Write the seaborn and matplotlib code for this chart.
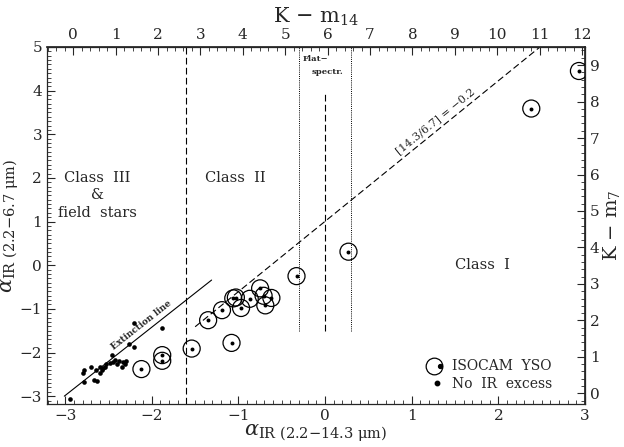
import numpy as np
import pandas as pd
import matplotlib
matplotlib.use("Agg")
import matplotlib.pyplot as plt
import seaborn as sns
from matplotlib.ticker import MultipleLocator
from matplotlib.lines import Line2D
from matplotlib.legend_handler import HandlerTuple

# ---------------- data ----------------
yso_x = [-2.12, -1.88, -1.88, -1.54, -1.35, -1.19, -1.08, -1.06, -1.03, -0.97,
         -0.87, -0.75, -0.71, -0.69, -0.62, -0.33, 0.27, 2.38, 2.93]
yso_y = [-2.38, -2.06, -2.19, -1.91, -1.26, -1.03, -1.78, -0.76, -0.74, -0.98,
         -0.77, -0.53, -0.70, -0.92, -0.75, -0.25, 0.31, 3.59, 4.45]

field_x = [-2.95, -2.79, -2.78, -2.78, -2.70, -2.67, -2.65, -2.63, -2.60, -2.60,
           -2.58, -2.56, -2.54, -2.53, -2.48, -2.46, -2.45, -2.42, -2.40, -2.38,
           -2.35, -2.33, -2.31, -2.30, -2.26, -2.21, -2.21, -1.88]
field_y = [-3.06, -2.48, -2.39, -2.68, -2.33, -2.62, -2.41, -2.66, -2.33, -2.48,
           -2.41, -2.36, -2.33, -2.26, -2.24, -2.05, -2.22, -2.18, -2.26, -2.19,
           -2.33, -2.22, -2.26, -2.19, -1.81, -1.87, -1.32, -1.45]

ext_line_x = [-3.01, -1.31]
ext_line_y = [-3.00, -0.34]
ratio_line_x = [-1.50, 2.48]
ratio_line_y = [-1.41, 5.00]

class_bound_x = -1.6
flat_low_x, flat_mid_x, flat_high_x = -0.3, 0.0, 0.3

yso = pd.DataFrame({"x": yso_x, "y": yso_y})
field = pd.DataFrame({"x": field_x, "y": field_y})

# ---------------- style ----------------
sns.set_theme(style="ticks")
plt.rcParams["font.family"] = ["DejaVu Serif"]
plt.rcParams["mathtext.fontset"] = "dejavuserif"

W, H = 624, 447
fig = plt.figure(figsize=(W / 100, H / 100), dpi=100)
L, R, T, B = 47, 585, 47, 404
ax = fig.add_axes([L / W, 1 - B / H, (R - L) / W, (B - T) / H])
ax.set_xlim(-3.21, 3.0)
ax.set_ylim(-3.18, 5.0)

# points
sns.scatterplot(data=yso, x="x", y="y", ax=ax, marker="o", s=150,
                facecolor="none", edgecolor="black", linewidth=0.9, legend=False, zorder=3)
sns.scatterplot(data=yso, x="x", y="y", ax=ax, marker="o", s=8,
                color="black", linewidth=0, legend=False, zorder=4)
sns.scatterplot(data=field, x="x", y="y", ax=ax, marker="o", s=11,
                color="black", linewidth=0, legend=False, zorder=4)

# lines
ax.plot(ext_line_x, ext_line_y, color="black", lw=0.8)
ax.plot(ratio_line_x, ratio_line_y, color="black", lw=0.8, ls=(0, (6, 3)))
ax.axvline(class_bound_x, color="black", lw=0.8, ls=(0, (6, 3)))
ax.plot([flat_low_x, flat_low_x], [-1.5, 5.0], color="black", lw=0.7, ls=(0, (1, 1.2)))
ax.plot([flat_high_x, flat_high_x], [-1.5, 5.0], color="black", lw=0.7, ls=(0, (1, 1.2)))
ax.plot([flat_mid_x, flat_mid_x], [-1.5, 4.0], color="black", lw=0.8, ls=(0, (6, 3)))

# rotated labels along lines
def screen_angle(xs, ys):
    p = ax.transData.transform(np.column_stack([xs, ys]))
    return np.degrees(np.arctan2(p[1, 1] - p[0, 1], p[1, 0] - p[0, 0]))

ax.text(-2.12, -1.38, "Extinction line", rotation=screen_angle(ext_line_x, ext_line_y),
        ha="center", va="center", fontsize=6.5, fontweight="bold", rotation_mode="anchor")
ax.text(1.27, 3.29, "[14.3/6.7] = \u22120.2", rotation=screen_angle(ratio_line_x, ratio_line_y),
        ha="center", va="center", fontsize=8, rotation_mode="anchor")

# region labels
ax.text(-2.63, 2.0, "Class  III", ha="center", va="center", fontsize=10.5)
ax.text(-2.63, 1.6, "&", ha="center", va="center", fontsize=10.5)
ax.text(-2.63, 1.2, "field  stars", ha="center", va="center", fontsize=10.5)
ax.text(-1.04, 2.0, "Class  II", ha="center", va="center", fontsize=10.5)
ax.text(1.82, 0.0, "Class  I", ha="center", va="center", fontsize=10.5)
ax.text(-0.26, 4.72, "Flat\u2212", ha="left", va="center", fontsize=6, fontweight="bold")
ax.text(-0.16, 4.42, "spectr.", ha="left", va="center", fontsize=6, fontweight="bold")

# legend
h_circ = Line2D([], [], marker="o", ls="none", ms=12, mfc="none", mec="black", mew=0.9)
h_dot = Line2D([], [], marker="o", ls="none", ms=2.8, color="black")
h_field = Line2D([], [], marker="o", ls="none", ms=3.2, color="black")
leg = ax.legend([(h_circ, h_dot), h_field], ["ISOCAM  YSO", "No  IR  excess"],
                handler_map={tuple: HandlerTuple(ndivide=None, pad=0)},
                loc="upper left", bbox_to_anchor=(0.712, 0.125), frameon=False,
                handlelength=1.0, handletextpad=0.6, labelspacing=0.25,
                borderpad=0, borderaxespad=0, fontsize=10)

# axes, ticks
ax.set_xlabel(r"$\alpha_{\rm IR\ (2.2{-}14.3\ \mu m)}$", fontsize=15, labelpad=0)
ax.set_ylabel(r"$\alpha_{\rm IR\ (2.2{-}6.7\ \mu m)}$", fontsize=15, labelpad=-1)
ax.xaxis.set_major_locator(MultipleLocator(1))
ax.xaxis.set_minor_locator(MultipleLocator(0.1))
ax.yaxis.set_major_locator(MultipleLocator(1))
ax.yaxis.set_minor_locator(MultipleLocator(0.1))
ax.tick_params(which="both", direction="in", top=False, right=False, labelsize=11)
ax.tick_params(which="major", length=6, width=0.8)
ax.tick_params(which="minor", length=3, width=0.6)
for s in ax.spines.values():
    s.set_linewidth(0.9)

def to_k14(a):
    return 2.043 * np.asarray(a) + 5.94

def from_k14(k):
    return (np.asarray(k) - 5.94) / 2.043

def to_k7(a):
    return 1.1965 * np.asarray(a) + 3.513

def from_k7(k):
    return (np.asarray(k) - 3.513) / 1.1965

secx = ax.secondary_xaxis("top", functions=(to_k14, from_k14))
secx.xaxis.set_major_locator(MultipleLocator(1))
secx.xaxis.set_minor_locator(MultipleLocator(0.2))
secx.tick_params(which="both", direction="in", labelsize=11)
secx.tick_params(which="major", length=6, width=0.8)
secx.tick_params(which="minor", length=3, width=0.6)
secx.set_xlabel(r"K $-$ m$_{14}$", fontsize=15, labelpad=4)

secy = ax.secondary_yaxis("right", functions=(to_k7, from_k7))
secy.yaxis.set_major_locator(MultipleLocator(1))
secy.yaxis.set_minor_locator(MultipleLocator(0.2))
secy.tick_params(which="both", direction="in", labelsize=11)
secy.tick_params(which="major", length=6, width=0.8)
secy.tick_params(which="minor", length=3, width=0.6)
secy.set_ylabel(r"K $-$ m$_{7}$", fontsize=14, labelpad=1)

fig.savefig("out.png", dpi=100)
